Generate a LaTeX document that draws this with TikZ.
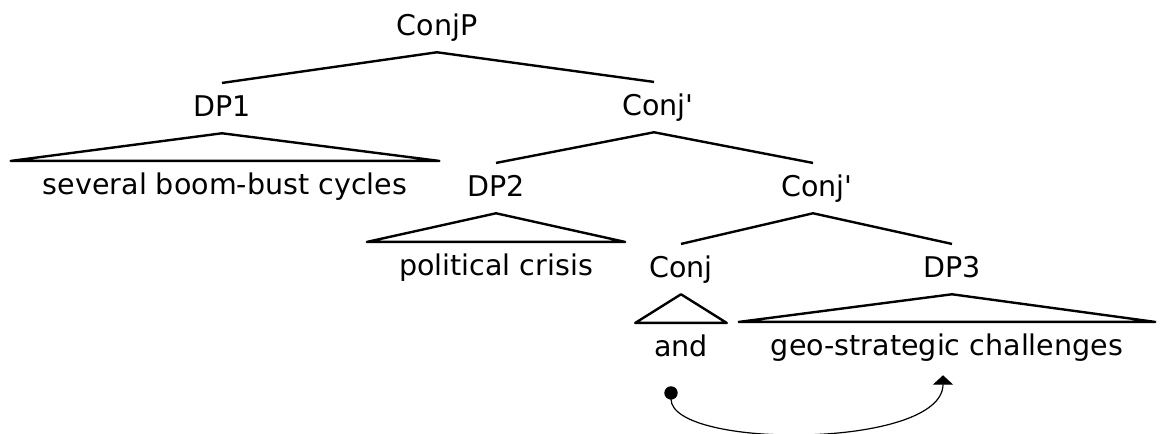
\documentclass[tikz,border=0pt]{standalone}
\usepackage{fontspec}
\setmainfont{DejaVu Sans}
\usetikzlibrary{arrows.meta}
\tikzset{
    cat/.style = {anchor = base, font = \fontsize{21.4}{25}\selectfont,
        text height = 15.6pt, text depth = 3.75pt, inner ysep = 9pt, inner xsep = 0pt},
    leaf/.style = {cat, inner xsep = 24pt},
    branch/.style = {line width = 1.8pt, line join = round},
    move/.style = {line width = 0.9pt, {Circle[length = 10pt]}-{Triangle[length = 7pt, width = 15pt]}}
}
\newcommand{\catbar}[1]{#1\rlap{\textquotesingle}}

\begin{document}
\begin{tikzpicture}[x = 0.75pt, y = -0.75pt]
        \useasboundingbox (0,0) rectangle (1162,433);
        \node[cat] (conjp) at (437,35) {ConjP};
        \node[cat] (dp1) at (222,116) {DP1};
        \node[cat] (cbar1) at (654,115) {\catbar{Conj}};
        \node[leaf] (l1) at (225,194) {several boom-bust cycles};
        \node[cat] (dp2) at (496,196) {DP2};
        \node[cat] (cbar2) at (813,196) {\catbar{Conj}};
        \node[leaf] (l2) at (496,275) {political crisis};
        \node[cat] (conj) at (681,277) {Conj};
        \node[cat] (dp3) at (952,277) {DP3};
        \node[leaf, inner xsep = 14pt] (l3) at (681,356) {and};
        \node[leaf] (l4) at (947,355) {geo-strategic challenges};
        % branches
        \draw[branch] (dp1.north) -- (conjp.south) -- (cbar1.north);
        \draw[branch] (dp2.north) -- (cbar1.south) -- (cbar2.north);
        \draw[branch] (conj.north) -- (cbar2.south) -- (dp3.north);
        % triangles
        \draw[branch] (dp1.south) -- (l1.north east) -- (l1.north west) -- cycle;
        \draw[branch] (dp2.south) -- (l2.north east) -- (l2.north west) -- cycle;
        \draw[branch] (conj.south) -- (l3.north east) -- (l3.north west) -- cycle;
        \draw[branch] (dp3.south) -- (l4.north east) -- (l4.north west) -- cycle;
        % movement
        \draw[move] ([shift = {(-10,13)}]l3.south) .. controls +(0,63) and +(0,74) .. ([shift = {(-4,3)}]l4.south);
\end{tikzpicture}
\end{document}
